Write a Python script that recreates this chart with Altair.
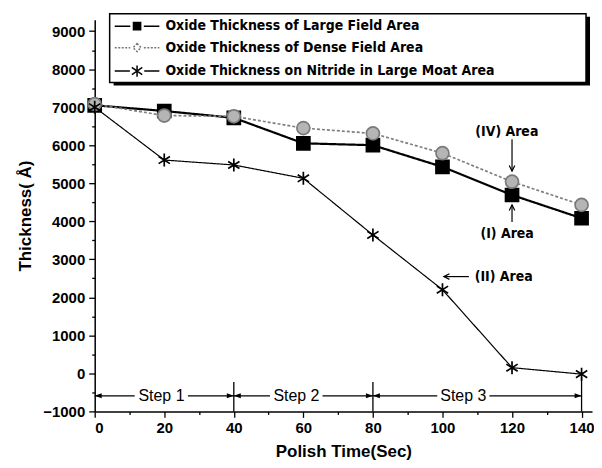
import altair as alt
import pandas as pd

# ---------------- data ----------------
time_sec = [0, 20, 40, 60, 80, 100, 120, 140]
large_field = [7050, 6900, 6720, 6050, 6000, 5430, 4690, 4080]
dense_field = [7080, 6780, 6760, 6450, 6310, 5790, 5040, 4430]
nitride_moat = [7000, 5610, 5480, 5130, 3640, 2200, 150, -20]

series_names = [
    "Oxide Thickness of Large Field Area",
    "Oxide Thickness of Dense Field Area",
    "Oxide Thickness on Nitride in Large Moat Area",
]

x_ticks = list(range(0, 141, 10))
y_ticks = list(range(-1000, 9001, 500))

step_labels = ["Step 1", "Step 2", "Step 3"]
step_label_x = [19.2, 58.0, 106.0]
step_y = -590
step_seg_x = [0, 26.8, 40, 65.5, 80, 113.5]
step_seg_x2 = [11.5, 40, 50.4, 80, 98.5, 140]
step_head_x = [0, 40, 40, 80, 80, 140]
step_head_angle = [180, 0, 180, 0, 180, 0]
step_bound_x = [40, 80, 140]
step_bound_top = [-230, -230, -100]
step_bound_bottom = [-1000, -1000, -1000]

area_labels = ["(IV) Area", "(I) Area", "(II) Area"]
area_label_x = [118.5, 118.6, 117.6]
area_label_y = [6348, 3657, 2531]
arrow_x = [120, 120, 107.6]
arrow_y = [6157, 3984, 2545]
arrow_x2 = [120, 120, 100.4]
arrow_y2 = [5319, 4429, 2545]
arrow_angle = [90, 270, 180]

# ---------------- tables ----------------
df_long = pd.DataFrame({
    "time": time_sec * 3,
    "thickness": large_field + dense_field + nitride_moat,
    "series": [s for s in series_names for _ in time_sec],
})
legend_df = pd.DataFrame({"legend": series_names})
step_seg_df = pd.DataFrame({"time": step_seg_x, "time2": step_seg_x2, "thickness": [step_y] * len(step_seg_x)})
step_head_df = pd.DataFrame({"time": step_head_x, "thickness": [step_y] * len(step_head_x), "angle": step_head_angle})
step_bound_df = pd.DataFrame({"time": step_bound_x, "thickness": step_bound_top, "thickness2": step_bound_bottom})
step_text_df = pd.DataFrame({"time": step_label_x, "thickness": [step_y] * 3, "label": step_labels})
area_text_df = pd.DataFrame({"time": area_label_x, "thickness": area_label_y, "label": area_labels})
arrow_df = pd.DataFrame({"time": arrow_x, "thickness": arrow_y, "time2": arrow_x2, "thickness2": arrow_y2})
arrow_head_df = pd.DataFrame({"time": arrow_x2, "thickness": arrow_y2, "angle": arrow_angle})
frame_df = pd.DataFrame({"k": [0]})

# ---------------- styling ----------------
NARROW = "'Liberation Sans Narrow', 'DejaVu Sans Condensed', 'Roboto Condensed', 'Liberation Sans'"
ARIAL = "Liberation Sans"

xs = alt.Scale(domain=[0, 143], nice=False, zero=False)
ys = alt.Scale(domain=[-1000, 9300], nice=False, zero=False)

x_axis = alt.Axis(
    values=x_ticks, format="d",
    labelExpr="datum.value % 20 === 0 ? datum.label : ''",
    tickSize={"condition": {"test": "datum.value % 20 === 0", "value": 6}, "value": 3},
    labelOverlap=False, grid=False, domainColor="black", domainWidth=1.5,
    tickColor="black", tickWidth=1.3, labelFont=ARIAL, labelFontWeight="bold",
    labelFontSize=15, labelColor="black", labelPadding=3,
    titleFont=ARIAL, titleFontWeight="bold", titleFontSize=17, titleColor="black",
    titlePadding=8,
)
y_axis = alt.Axis(
    values=y_ticks, format="d",
    labelExpr="datum.value % 1000 === 0 ? datum.label : ''",
    tickSize={"condition": {"test": "datum.value % 1000 === 0", "value": 6}, "value": 3},
    labelOverlap=False, grid=False, domainColor="black", domainWidth=1.5,
    tickColor="black", tickWidth=1.3, labelFont=ARIAL, labelFontWeight="bold",
    labelFontSize=15, labelColor="black", labelPadding=4,
    titleFont=ARIAL, titleFontWeight="bold", titleFontSize=17, titleColor="black",
    titlePadding=8,
)


def X(field="time:Q"):
    return alt.X(field, scale=xs, axis=x_axis, title="Polish Time(Sec)")


def Y(field="thickness:Q"):
    return alt.Y(field, scale=ys, axis=y_axis, title="Thickness( Å)")


star_path = "M0,-1V1M-0.87,-0.55L0.87,0.55M-0.87,0.55L0.87,-0.55"
leg_square = "M-5.6,0H-1.7M1.7,0H5.6M-0.9,-0.9H0.9V0.9H-0.9Z"
leg_diamond = "M-5.6,0H-1.7M1.7,0H5.6M0,-1L1,0L0,1L-1,0Z"
leg_star = "M-5.6,0H-1.8M1.8,0H5.6M0,-1.4V1.4M-1.3,-0.9L1.3,0.9M-1.3,0.9L1.3,-0.9"
tri_path = "M0,0L-2,-0.7L-2,0.7Z"
chevron_path = "M-1.6,-0.8L0,0L-1.6,0.8"

# ---------------- layers ----------------
shadow = alt.Chart(frame_df).mark_rect(color="black").encode(
    x=alt.value(19), x2=alt.value(497), y=alt.value(-3), y2=alt.value(66))
frame = alt.Chart(frame_df).mark_rect(fill="white", stroke="black", strokeWidth=1.5).encode(
    x=alt.value(15), x2=alt.value(493), y=alt.value(-6), y2=alt.value(63))

lines = alt.Chart(df_long).mark_line().encode(
    x=X(), y=Y(),
    stroke=alt.Stroke("series:N", scale=alt.Scale(domain=series_names, range=["black", "#7f7f7f", "black"]), legend=None),
    strokeDash=alt.StrokeDash("series:N", scale=alt.Scale(domain=series_names, range=[[1, 0], [3, 2], [1, 0]]), legend=None),
    strokeWidth=alt.StrokeWidth("series:O", scale=alt.Scale(domain=series_names, range=[2.2, 1.2, 1.5]), legend=None),
)

points = alt.Chart(df_long).mark_point(filled=True, strokeWidth=1.7, opacity=1).encode(
    x=X(), y=Y(),
    shape=alt.Shape("series:N", scale=alt.Scale(domain=series_names, range=["square", "circle", star_path]), legend=None),
    fill=alt.Fill("series:N", scale=alt.Scale(domain=series_names, range=["black", "#b5b5b5", "transparent"]), legend=None),
    stroke=alt.Stroke("series:N", scale=alt.Scale(domain=series_names, range=["black", "#7a7a7a", "black"]), legend=None),
    size=alt.Size("series:O", scale=alt.Scale(domain=series_names, range=[170, 170, 440]), legend=None),
)

legend_layer = alt.Chart(legend_df).transform_filter("false").mark_point(filled=True, strokeWidth=1.5, opacity=1).encode(
    shape=alt.Shape("legend:N", title=None,
                    scale=alt.Scale(domain=series_names, range=[leg_square, leg_diamond, leg_star]),
                    legend=alt.Legend(orient="none", legendX=35.5, legendY=-0.5, title=None)),
    fill=alt.Fill("legend:N", title=None,
                  scale=alt.Scale(domain=series_names, range=["black", "white", "transparent"])),
    stroke=alt.Stroke("legend:N", title=None,
                      scale=alt.Scale(domain=series_names, range=["black", "#777777", "black"])),
    strokeDash=alt.StrokeDash("legend:N", title=None,
                              scale=alt.Scale(domain=series_names, range=[[1, 0], [2, 1.5], [1, 0]])),
)

step_segs = alt.Chart(step_seg_df).mark_rule(color="black", strokeWidth=1.2).encode(
    x=X(), x2="time2:Q", y=Y())
step_heads = alt.Chart(step_head_df).mark_point(shape=tri_path, filled=True, color="black", size=49, opacity=1).encode(
    x=X(), y=Y(), angle=alt.Angle("angle:Q", scale=None))
step_bounds = alt.Chart(step_bound_df).mark_rule(color="black", strokeWidth=1.3).encode(
    x=X(), y=Y(), y2="thickness2:Q")
step_text = alt.Chart(step_text_df).mark_text(font=ARIAL, fontSize=16, color="black", baseline="middle").encode(
    x=X(), y=Y(), text="label:N")

area_arrows = alt.Chart(arrow_df).mark_rule(color="black", strokeWidth=1.2).encode(
    x=X(), y=Y(), x2="time2:Q", y2="thickness2:Q")
area_heads = alt.Chart(arrow_head_df).mark_point(shape=chevron_path, filled=False, color="black", size=49, strokeWidth=1.2, opacity=1).encode(
    x=X(), y=Y(), angle=alt.Angle("angle:Q", scale=None))
area_text = alt.Chart(area_text_df).mark_text(font=NARROW, fontWeight="bold", fontSize=14, color="black", baseline="middle").encode(
    x=X(), y=Y(), text="label:N")

chart = alt.layer(
    shadow, frame, step_bounds, step_segs, step_heads, step_text,
    lines, points, area_arrows, area_heads, area_text, legend_layer,
).resolve_scale(
    shape="independent", fill="independent", stroke="independent",
    strokeDash="independent", size="independent", strokeWidth="independent",
).properties(
    width=499, height=393,
    autosize=alt.AutoSizeParams(type="none"),
    padding={"left": 87, "top": 11, "right": 2, "bottom": 48},
).configure_view(stroke=None).configure_legend(
    labelFont=NARROW, labelFontWeight="bold", labelFontSize=14, labelColor="black",
    symbolSize=64, symbolStrokeWidth=1.5, labelOffset=21.5, rowPadding=7.5,
    padding=0, labelLimit=0,
)

chart.save("out.html", embed_options={"renderer": "svg", "actions": False})
